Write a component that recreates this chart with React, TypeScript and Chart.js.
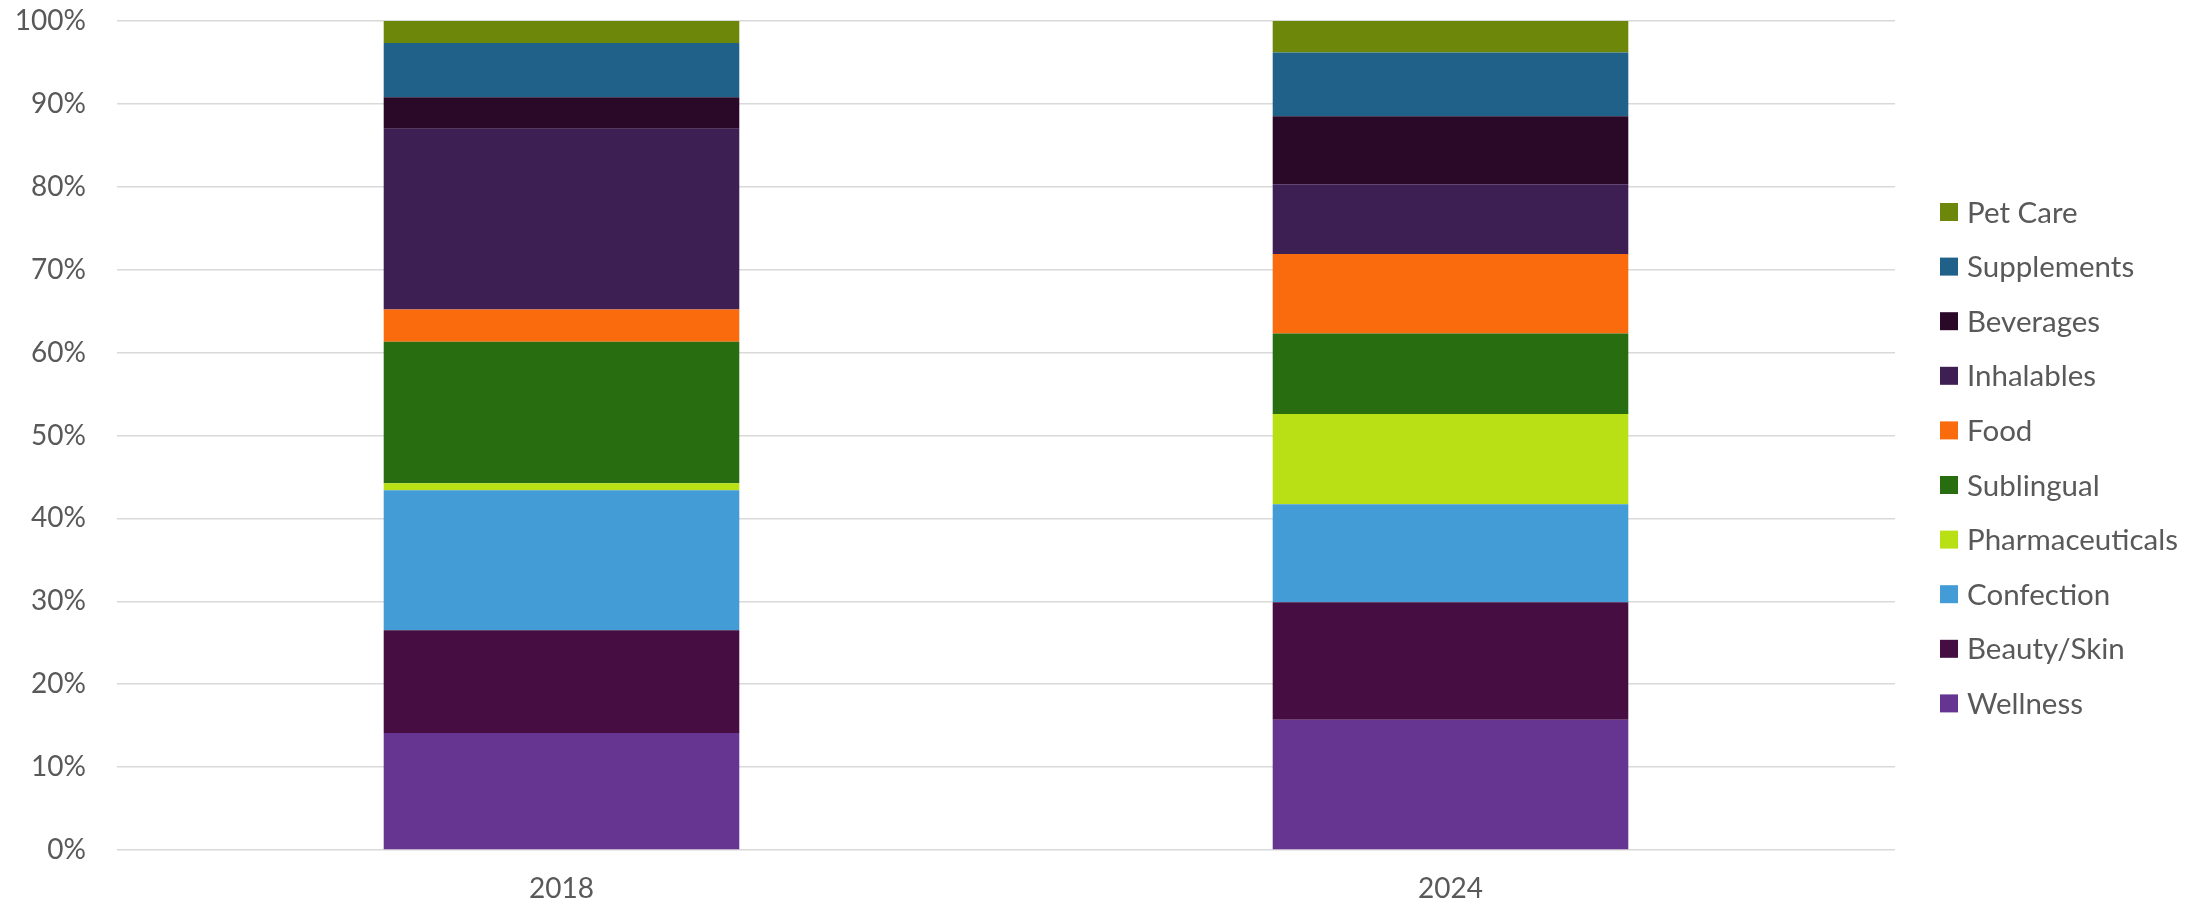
import React, { useEffect, useRef } from "react";
import { Chart, registerables } from "chart.js";

Chart.register(...registerables);

const categories = ["2018", "2024"];
const seriesNames = [
  "Wellness",
  "Beauty/Skin",
  "Confection",
  "Pharmaceuticals",
  "Sublingual",
  "Food",
  "Inhalables",
  "Beverages",
  "Supplements",
  "Pet Care",
];
const wellness = [14.1, 15.7];
const beautySkin = [12.4, 14.2];
const confection = [16.9, 11.8];
const pharmaceuticals = [0.85, 10.9];
const sublingual = [17.05, 9.7];
const food = [3.9, 9.6];
const inhalables = [21.8, 8.4];
const beverages = [3.8, 8.2];
const supplements = [6.55, 7.7];
const petCare = [2.65, 3.8];
const seriesColors = [
  "#663591",
  "#450d41",
  "#439cd6",
  "#b8e014",
  "#286e11",
  "#f96b0c",
  "#3d1f54",
  "#290828",
  "#20618a",
  "#6c8709",
];
const yTicks = [0, 10, 20, 30, 40, 50, 60, 70, 80, 90, 100];

const FONT = "Lato";
const TEXT = "#595959";

const legendPlugin = {
  id: "customLegend",
  afterDraw(chart: any) {
    const ctx = chart.ctx;
    const area = chart.chartArea;
    const items = chart.data.datasets.map((d: any) => ({ label: d.label, color: d.backgroundColor })).reverse();
    ctx.save();
    ctx.font = `29.5px ${FONT}`;
    ctx.textBaseline = "alphabetic";
    ctx.textAlign = "left";
    const x0 = area.right + 45;
    const y0 = 212;
    const step = 54.6;
    items.forEach((it: any, k: number) => {
      const cy = y0 + k * step;
      ctx.fillStyle = it.color;
      ctx.fillRect(x0, cy - 9, 18, 18);
      ctx.fillStyle = TEXT;
      ctx.fillText(it.label, x0 + 27, cy + 10.5);
    });
    ctx.restore();
  },
};

export default function App() {
  const ref = useRef<HTMLCanvasElement>(null);
  useEffect(() => {
    const values = [
      wellness,
      beautySkin,
      confection,
      pharmaceuticals,
      sublingual,
      food,
      inhalables,
      beverages,
      supplements,
      petCare,
    ];
    const chart = new Chart(ref.current!, {
      type: "bar",
      data: {
        labels: categories,
        datasets: seriesNames.map((name, i) => ({
          label: name,
          data: values[i],
          backgroundColor: seriesColors[i],
          borderWidth: 0,
          barPercentage: 0.4,
          categoryPercentage: 1,
        })),
      },
      options: {
        animation: false,
        responsive: false,
        devicePixelRatio: 1,
        layout: { padding: { left: 0, right: 311, top: 21, bottom: 0 } },
        plugins: { legend: { display: false }, tooltip: { enabled: false } },
        scales: {
          x: {
            stacked: true,
            grid: { display: false, drawTicks: false },
            border: { display: false },
            ticks: { color: TEXT, font: { family: FONT, size: 28 }, padding: 22 },
            afterFit(scale: any) {
              scale.height = 56;
              scale.paddingLeft = 0;
              scale.paddingRight = 0;
            },
          },
          y: {
            stacked: true,
            min: 0,
            max: 100,
            afterBuildTicks(scale: any) {
              scale.ticks = yTicks.map((v) => ({ value: v }));
            },
            grid: { color: "#d9d9d9", lineWidth: 1.5, drawTicks: false },
            border: { display: false },
            ticks: {
              color: TEXT,
              font: { family: FONT, size: 28 },
              padding: 31,
              callback: (v: any) => `${v}%`,
            },
            afterFit(scale: any) {
              scale.width = 117;
              scale.paddingTop = 0;
              scale.paddingBottom = 0;
            },
          },
        },
      },
      plugins: [legendPlugin],
    });
    return () => chart.destroy();
  }, []);
  return (
    <div style={{ position: "absolute", left: 0, top: 0, width: 2206, height: 906, background: "#fff" }}>
      <canvas ref={ref} width={2206} height={906} style={{ width: 2206, height: 906 }} />
    </div>
  );
}
